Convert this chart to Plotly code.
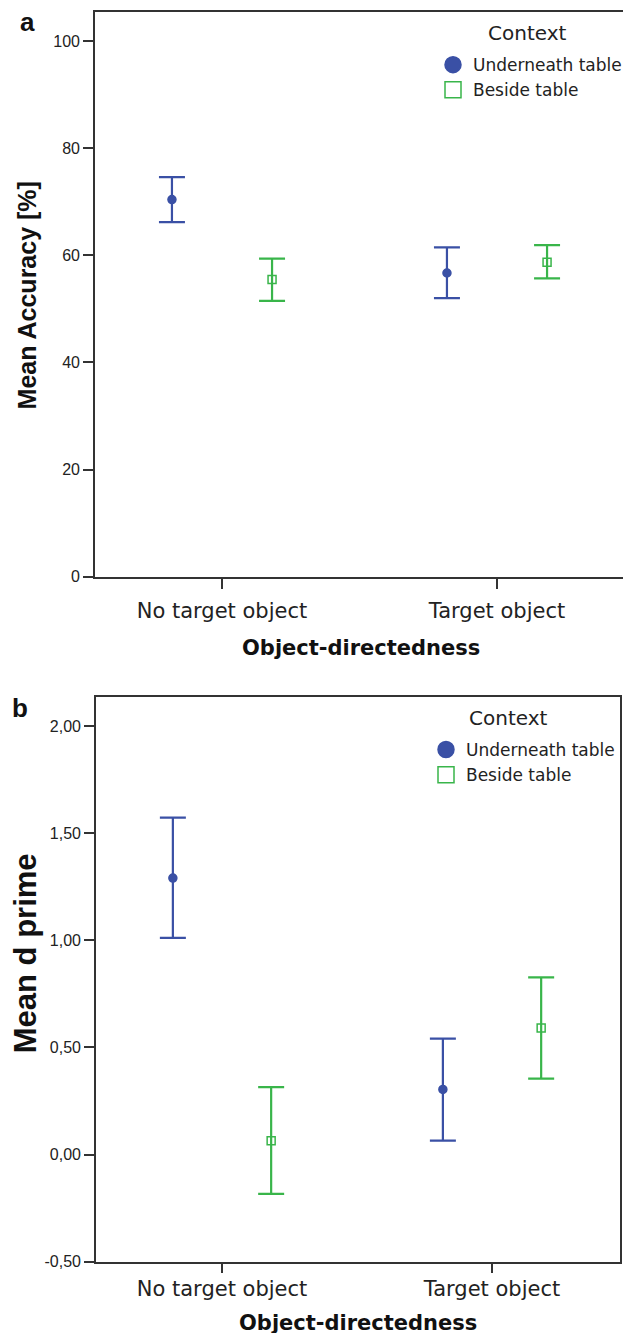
import plotly.graph_objects as go

# page body has an 8px margin; the photographed page is also squeezed a little vertically
OFF = 8
VS = 0.992
W, H = 631 - OFF, 1336

categories = ["No target object", "Target object"]
series_names = ["Underneath table", "Beside table"]

# Panel a: Mean Accuracy [%]
acc_under_mean = [70.4, 56.7]
acc_under_hi = [74.6, 61.5]
acc_under_lo = [66.2, 52.0]
acc_beside_mean = [55.5, 58.7]
acc_beside_hi = [59.4, 61.9]
acc_beside_lo = [51.5, 55.7]

# Panel b: Mean d prime
dp_under_mean = [1.290, 0.304]
dp_under_hi = [1.572, 0.541]
dp_under_lo = [1.011, 0.065]
dp_beside_mean = [0.064, 0.590]
dp_beside_hi = [0.315, 0.827]
dp_beside_lo = [-0.184, 0.354]

acc_ticks = [0, 20, 40, 60, 80, 100]
dp_ticks = [-0.5, 0.0, 0.5, 1.0, 1.5, 2.0]
dp_ticktext = ["-0,50", "0,00", "0,50", "1,00", "1,50", "2,00"]

BLUE = "#3a50a5"
GREEN = "#39b54a"
AXC = "#333333"


def px_x(p):
    return (p - OFF) / W


def px_y(p):
    return 1 - (p / VS - OFF) / H


fig = go.Figure()

offsets = [-0.182, 0.182]
colors = [BLUE, GREEN]
symbols = ["circle", "square-open"]


def add_panel(means, his, los, xa, ya, legend):
    for i in range(2):
        m, hi, lo = means[i], his[i], los[i]
        xs = [k + offsets[i] for k in range(len(categories))]
        fig.add_trace(go.Scatter(
            x=xs, y=m, mode="markers", xaxis=xa, yaxis=ya,
            showlegend=False,
            marker=dict(symbol=symbols[i], size=8,
                        color=colors[i], line=dict(color=colors[i], width=1.5)),
            error_y=dict(type="data", symmetric=False,
                         array=[h - v for h, v in zip(hi, m)],
                         arrayminus=[v - l for v, l in zip(m, lo)],
                         color=colors[i], thickness=2.2, width=13),
        ))
        # legend-only trace
        fig.add_trace(go.Scatter(
            x=[None], y=[None], mode="markers", xaxis=xa, yaxis=ya,
            name=series_names[i], legend=legend, showlegend=True,
            marker=dict(symbol=symbols[i], size=20, color=colors[i],
                        line=dict(color=colors[i], width=1.5)),
        ))


add_panel([acc_under_mean, acc_beside_mean], [acc_under_hi, acc_beside_hi],
          [acc_under_lo, acc_beside_lo], "x", "y", "legend")
add_panel([dp_under_mean, dp_beside_mean], [dp_under_hi, dp_beside_hi],
          [dp_under_lo, dp_beside_lo], "x2", "y2", "legend2")

tickfont = dict(family="Liberation Sans, Arial", size=16, color="#222")
catfont = dict(family="DejaVu Sans", size=21, color="#222")

axis_common = dict(showline=True, linecolor=AXC, linewidth=1.6, mirror=True,
                   ticks="outside", ticklen=10, tickwidth=1.5, tickcolor=AXC,
                   showgrid=False, zeroline=False)

leg_common = dict(bgcolor="rgba(0,0,0,0)", borderwidth=0,
                  font=dict(family="DejaVu Sans", size=17, color="#222"),
                  itemsizing="trace", tracegroupgap=0,
                  xanchor="left", yanchor="top")

fig.update_layout(
    width=W, height=H,
    margin=dict(l=0, r=0, t=0, b=0),
    paper_bgcolor="white", plot_bgcolor="white",
    xaxis=dict(domain=[px_x(95), px_x(627)], range=[-0.4618, 1.4727],
               tickvals=[0, 1], ticktext=categories, tickfont=catfont,
               ticklabelstandoff=4, anchor="y", **axis_common),
    yaxis=dict(domain=[px_y(576), px_y(12)], range=[0, 105.4],
               tickvals=acc_ticks, tickfont=tickfont, anchor="x", **axis_common),
    xaxis2=dict(domain=[px_x(96), px_x(620)], range=[-0.4667, 1.474],
                tickvals=[0, 1], ticktext=categories, tickfont=catfont,
                ticklabelstandoff=-3, anchor="y2", **axis_common),
    yaxis2=dict(domain=[px_y(1260), px_y(696)], range=[-0.5, 2.1355],
                tickvals=dp_ticks, ticktext=dp_ticktext, tickfont=tickfont,
                anchor="x2", **axis_common),
    legend=dict(x=px_x(433), y=px_y(47), **leg_common),
    legend2=dict(x=px_x(426), y=px_y(731), **leg_common),
)

ann_bold = dict(family="DejaVu Sans", size=21, color="#111")
lab = dict(family="Liberation Sans, Arial", size=26, color="#111")
ctx = dict(family="DejaVu Sans", size=20, color="#222")
common_ann = dict(xref="paper", yref="paper", showarrow=False,
                  xanchor="center", yanchor="middle")
annotations = [
    dict(text="<b>a</b>", x=px_x(28), y=px_y(22), font=lab, **common_ann),
    dict(text="<b>b</b>", x=px_x(20), y=px_y(707), font=lab, **common_ann),
    dict(text="Context", x=px_x(527), y=px_y(33), font=ctx, **common_ann),
    dict(text="Context", x=px_x(508), y=px_y(717), font=ctx, **common_ann),
    dict(text="<b>Mean Accuracy [%]</b>", x=px_x(27), y=px_y(295), textangle=-90,
         font=dict(family="Liberation Sans, Arial", size=25, color="#111"), **common_ann),
    dict(text="<b>Mean d prime</b>", x=px_x(25), y=px_y(952), textangle=-90,
         font=dict(family="Liberation Sans, Arial", size=31, color="#111"), **common_ann),
    dict(text="<b>Object-directedness</b>", x=px_x(361), y=px_y(647),
         font=ann_bold, **common_ann),
    dict(text="<b>Object-directedness</b>", x=px_x(358), y=px_y(1321),
         font=ann_bold, **common_ann),
]
fig.update_layout(annotations=annotations)

fig.write_html("out.html")
